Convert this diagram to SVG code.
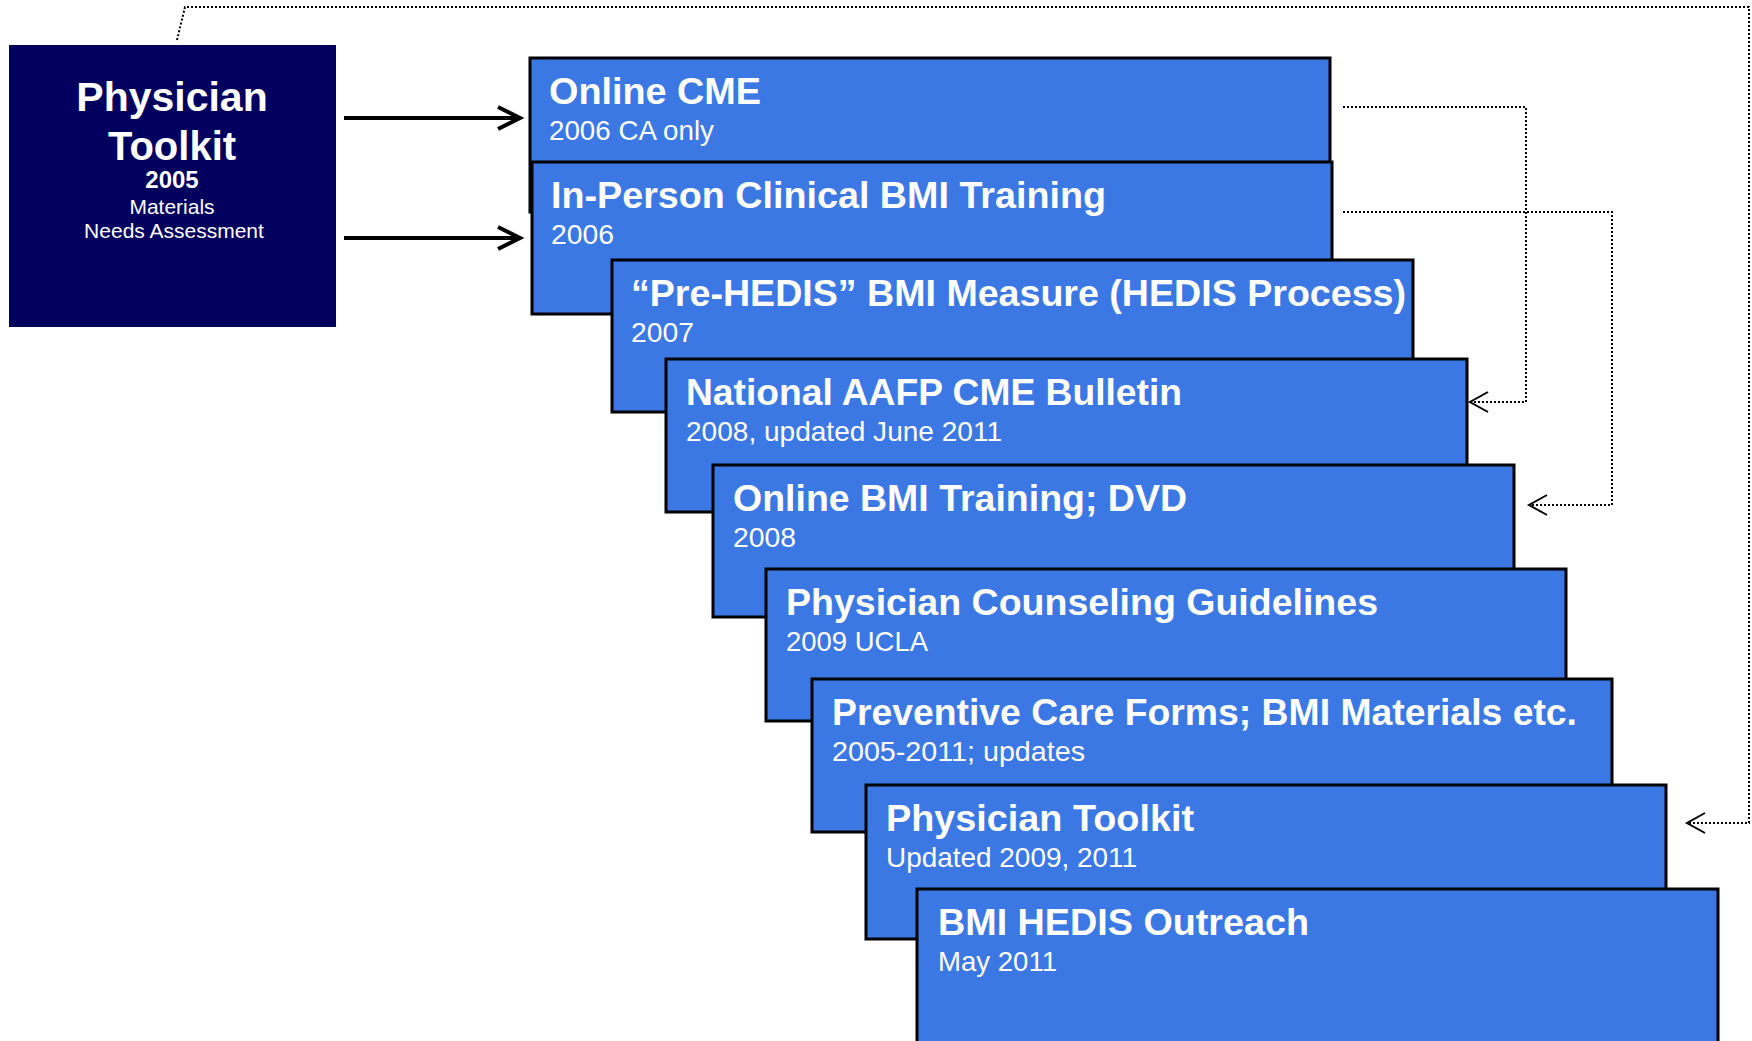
<svg xmlns="http://www.w3.org/2000/svg" width="1752" height="1041" viewBox="0 0 1752 1041">
<style>
.bg{fill:#ffffff}
.box{fill:#3C78E4;stroke:#000000;stroke-width:3}
.hub{fill:#02005F}
.t{font-family:"Liberation Sans",Arial,sans-serif;fill:#ffffff}
.title{font-size:37px;font-weight:bold}
.sub{font-size:28px}
.thick{fill:none;stroke:#000000;stroke-width:4}
.dot{fill:none;stroke:#000000;stroke-width:2;stroke-dasharray:2 2}
</style>
<defs>
<marker id="arrThick" markerUnits="userSpaceOnUse" viewBox="-28 -16 32 32" refX="0" refY="0" markerWidth="32" markerHeight="32" orient="auto">
<path d="M-22,-11 L0,0 L-22,11" fill="none" stroke="#000000" stroke-width="4"/>
</marker>
<marker id="arrDot" markerUnits="userSpaceOnUse" viewBox="-24 -14 28 28" refX="0" refY="0" markerWidth="28" markerHeight="28" orient="auto">
<path d="M-18,-10 L0,0 L-18,10" fill="none" stroke="#000000" stroke-width="2" stroke-dasharray="none"/>
</marker>
</defs>
<rect class="bg" x="0" y="0" width="1752" height="1041"/>

<g id="hub">
<rect class="hub" x="9" y="45" width="327" height="282"/>
<text class="t" x="172" y="111" font-size="41" font-weight="bold" text-anchor="middle">Physician</text>
<text class="t" x="172" y="160" font-size="40" font-weight="bold" text-anchor="middle">Toolkit</text>
<text class="t" x="172" y="188" font-size="24" font-weight="bold" text-anchor="middle">2005</text>
<text class="t" x="172" y="214" font-size="21" text-anchor="middle">Materials</text>
<text class="t" x="174" y="238" font-size="21" text-anchor="middle">Needs Assessment</text>
</g>

<g id="n1">
<rect class="box" x="530" y="58" width="800" height="154"/>
<text class="t title" x="549" y="104" textLength="212" lengthAdjust="spacingAndGlyphs">Online CME</text>
<text class="t sub" x="549" y="140" textLength="165" lengthAdjust="spacingAndGlyphs">2006 CA only</text>
</g>
<g id="n2">
<rect class="box" x="532" y="162" width="800" height="152"/>
<text class="t title" x="551" y="208" textLength="555" lengthAdjust="spacingAndGlyphs">In-Person Clinical BMI Training</text>
<text class="t sub" x="551" y="244" textLength="63" lengthAdjust="spacingAndGlyphs">2006</text>
</g>
<g id="n3">
<rect class="box" x="612" y="260" width="801" height="152"/>
<text class="t title" x="631" y="306" textLength="775" lengthAdjust="spacingAndGlyphs">“Pre-HEDIS” BMI Measure (HEDIS Process)</text>
<text class="t sub" x="631" y="342" textLength="63" lengthAdjust="spacingAndGlyphs">2007</text>
</g>
<g id="n4">
<rect class="box" x="666" y="359" width="801" height="153"/>
<text class="t title" x="686" y="405" textLength="496" lengthAdjust="spacingAndGlyphs">National AAFP CME Bulletin</text>
<text class="t sub" x="686" y="441" textLength="316" lengthAdjust="spacingAndGlyphs">2008, updated June 2011</text>
</g>
<g id="n5">
<rect class="box" x="713" y="465" width="801" height="152"/>
<text class="t title" x="733" y="511" textLength="454" lengthAdjust="spacingAndGlyphs">Online BMI Training; DVD</text>
<text class="t sub" x="733" y="547" textLength="63" lengthAdjust="spacingAndGlyphs">2008</text>
</g>
<g id="n6">
<rect class="box" x="766" y="569" width="800" height="152"/>
<text class="t title" x="786" y="615" textLength="592" lengthAdjust="spacingAndGlyphs">Physician Counseling Guidelines</text>
<text class="t sub" x="786" y="651" textLength="142" lengthAdjust="spacingAndGlyphs">2009 UCLA</text>
</g>
<g id="n7">
<rect class="box" x="812" y="679" width="800" height="153"/>
<text class="t title" x="832" y="725" textLength="745" lengthAdjust="spacingAndGlyphs">Preventive Care Forms; BMI Materials etc.</text>
<text class="t sub" x="832" y="761" textLength="253" lengthAdjust="spacingAndGlyphs">2005-2011; updates</text>
</g>
<g id="n8">
<rect class="box" x="866" y="785" width="800" height="154"/>
<text class="t title" x="886" y="831" textLength="308" lengthAdjust="spacingAndGlyphs">Physician Toolkit</text>
<text class="t sub" x="886" y="867" textLength="251" lengthAdjust="spacingAndGlyphs">Updated 2009, 2011</text>
</g>
<g id="n9">
<rect class="box" x="917" y="889" width="801" height="170"/>
<text class="t title" x="938" y="935" textLength="371" lengthAdjust="spacingAndGlyphs">BMI HEDIS Outreach</text>
<text class="t sub" x="938" y="971" textLength="119" lengthAdjust="spacingAndGlyphs">May 2011</text>
</g>

<g id="connectors">
<path class="thick" d="M344,118 H520" marker-end="url(#arrThick)"/>
<path class="thick" d="M344,238 H520" marker-end="url(#arrThick)"/>
<path class="dot" d="M1343,107 H1526 V402 H1470" marker-end="url(#arrDot)"/>
<path class="dot" d="M1343,212 H1612 V505 H1529" marker-end="url(#arrDot)"/>
<path class="dot" d="M177,40 L185,7 H1749 V823 H1687" marker-end="url(#arrDot)"/>
</g>
</svg>
